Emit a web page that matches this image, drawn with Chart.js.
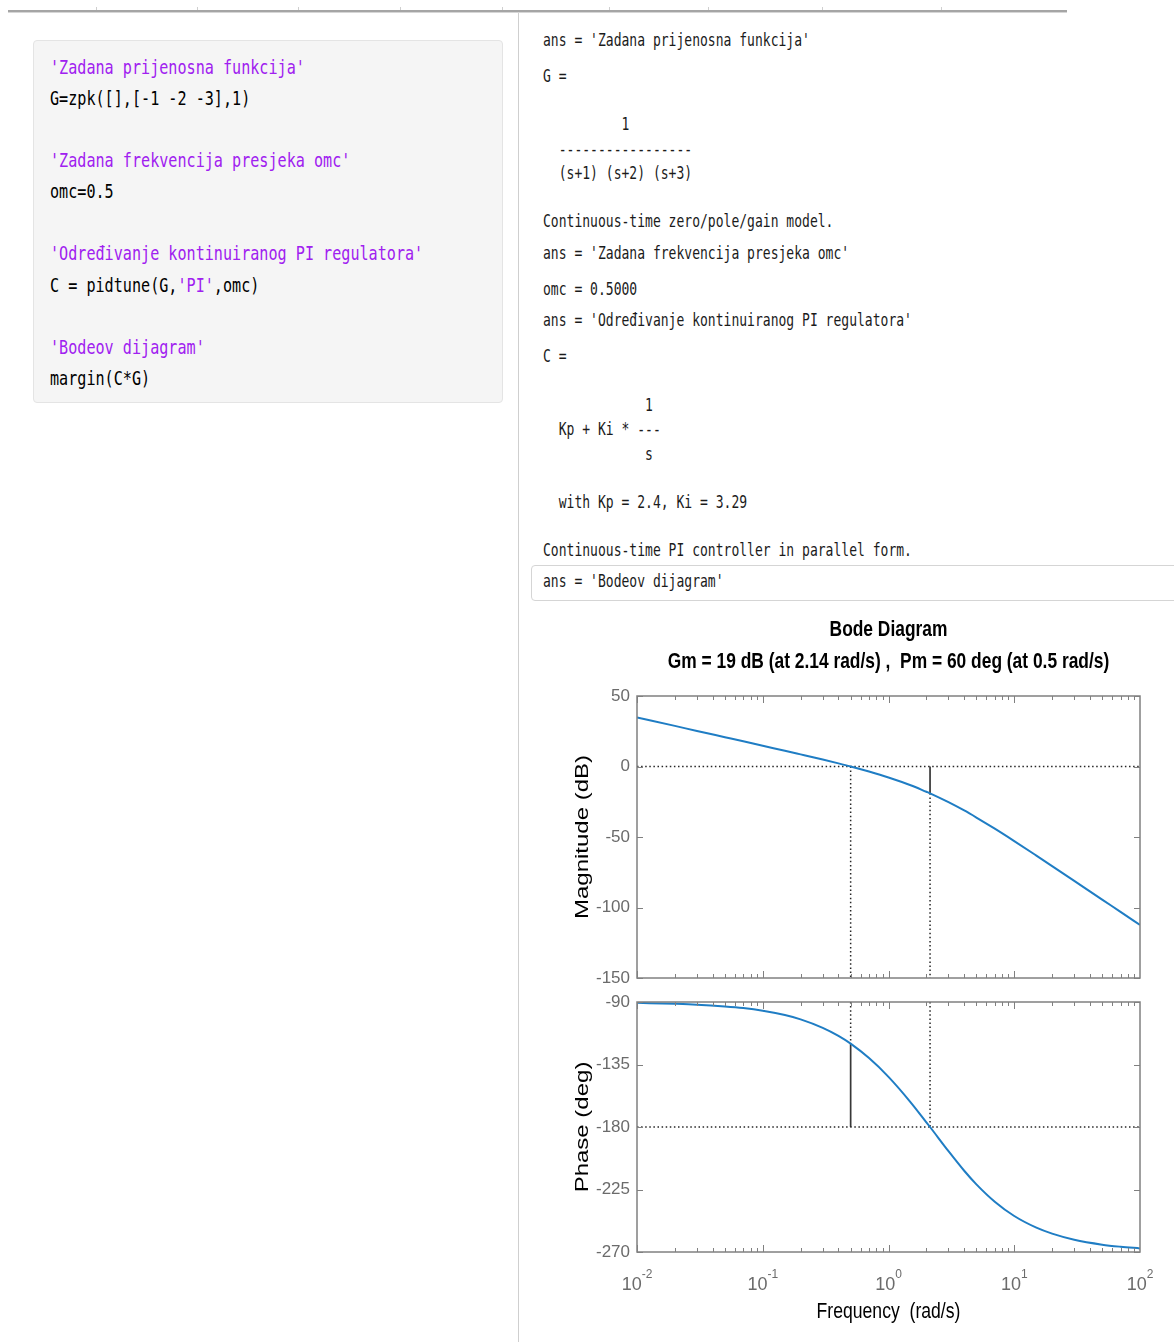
<!DOCTYPE html>
<html lang="hr">
<head>
<meta charset="utf-8">
<title>Bodeov dijagram</title>
<script src="https://cdn.jsdelivr.net/npm/chart.js@4.4.1/dist/chart.umd.min.js"></script>
<style>
  html, body { margin: 0; padding: 0; background: #fff; }
  #page { position: relative; width: 1174px; height: 1342px; overflow: hidden; background: #fff; }
  .toolbar { position: absolute; left: 8px; top: 10px; width: 1059px; height: 2px; background: #a5a5a5; border-bottom: 1px solid #d6d6d6; }
  .toolbar span { position: absolute; top: -3px; width: 1px; height: 3px; background: #cfcfcf; }
  .divider { position: absolute; left: 518px; top: 13px; width: 1px; height: 1329px; background: #cfcfcf; }
  .code-box { position: absolute; left: 33px; top: 40px; width: 468px; height: 361px; background: #f5f5f5; border: 1px solid #e4e4e4; border-radius: 4px; }
  .mono { position: absolute; white-space: pre; font-family: "DejaVu Sans Mono", "Liberation Mono", monospace; transform-origin: 0 50%; }
  .code { left: 50px; font-size: 20px; line-height: 24px; transform: scaleX(0.756); color: #000; }
  .out { left: 543px; font-size: 17px; line-height: 20px; transform: scaleX(0.767); color: #1b1b1b; }
  .str { color: #a020f0; }
  .ans-box { position: absolute; left: 531px; top: 565px; width: 660px; height: 34px; border: 1px solid #d5d5d5; border-radius: 4px; }
  canvas { position: absolute; }
  #magChart { left: 540px; top: 600px; }
  #phaseChart { left: 540px; top: 980px; }
</style>
</head>
<body>
<div id="page">
  <div class="toolbar">
    <span style="left:88px"></span><span style="left:189px"></span><span style="left:290px"></span>
    <span style="left:392px"></span><span style="left:494px"></span><span style="left:601px"></span>
    <span style="left:700px"></span><span style="left:814px"></span><span style="left:933px"></span>
  </div>
  <div class="divider"></div>

  <div class="code-box"></div>
  <div class="mono code str" style="top:55px">'Zadana prijenosna funkcija'</div>
  <div class="mono code" style="top:86px">G=zpk([],[-1 -2 -3],1)</div>
  <div class="mono code str" style="top:148px">'Zadana frekvencija presjeka omc'</div>
  <div class="mono code" style="top:179px">omc=0.5</div>
  <div class="mono code str" style="top:241px">'Određivanje kontinuiranog PI regulatora'</div>
  <div class="mono code" style="top:273px">C = pidtune(G,<span class="str">'PI'</span>,omc)</div>
  <div class="mono code str" style="top:335px">'Bodeov dijagram'</div>
  <div class="mono code" style="top:366px">margin(C*G)</div>

  <div class="mono out" style="top:30px">ans = 'Zadana prijenosna funkcija'</div>
  <div class="mono out" style="top:66px">G =</div>
  <div class="mono out" style="top:114px">          1</div>
  <div class="mono out" style="top:139px">  -----------------</div>
  <div class="mono out" style="top:163px">  (s+1) (s+2) (s+3)</div>
  <div class="mono out" style="top:211px">Continuous-time zero/pole/gain model.</div>
  <div class="mono out" style="top:243px">ans = 'Zadana frekvencija presjeka omc'</div>
  <div class="mono out" style="top:279px">omc = 0.5000</div>
  <div class="mono out" style="top:310px">ans = 'Određivanje kontinuiranog PI regulatora'</div>
  <div class="mono out" style="top:346px">C =</div>
  <div class="mono out" style="top:395px">             1</div>
  <div class="mono out" style="top:419px">  Kp + Ki * ---</div>
  <div class="mono out" style="top:444px">             s</div>
  <div class="mono out" style="top:492px">  with Kp = 2.4, Ki = 3.29</div>
  <div class="mono out" style="top:540px">Continuous-time PI controller in parallel form.</div>
  <div class="ans-box"></div>
  <div class="mono out" style="top:571px">ans = 'Bodeov dijagram'</div>

  <canvas id="magChart" width="634" height="396"></canvas>
  <canvas id="phaseChart" width="634" height="362"></canvas>
</div>

<script>
// open-loop C*G, frequency in rad/s
const freq = [0.01, 0.02, 0.03, 0.05, 0.07, 0.1, 0.15, 0.2, 0.3, 0.4, 0.5, 0.7, 1, 1.5, 2, 2.14,
              3, 4, 5, 7, 10, 15, 20, 30, 50, 70, 100];
const magDb = [34.8, 28.8, 25.2, 20.8, 17.9, 14.7, 11.2, 8.6, 4.9, 2.2, 0.0, -3.6, -7.8, -13.3, -17.9, -19.0,
               -25.3, -31.2, -36.2, -44.1, -52.9, -63.2, -70.6, -81.1, -94.4, -103.1, -112.4];
const phaseDeg = [-90.6, -91.3, -91.9, -93.2, -94.4, -96.3, -99.4, -102.5, -108.6, -114.4, -120.0, -130.4, -143.9, -162.2, -176.6, -180.0,
                  -197.4, -211.5, -221.3, -233.8, -244.1, -252.5, -256.8, -261.2, -264.7, -266.2, -267.4];

const freqDecades = [0.01, 0.1, 1, 10, 100];
const magTicks = [-150, -100, -50, 0, 50];
const phaseTicks = [-270, -225, -180, -135, -90];

// stability margins
const gmDb = 19, gmFreq = 2.14;
const pmDeg = 60, pmFreq = 0.5;

const FONT = '"Liberation Sans", Arial, Helvetica, sans-serif';
const AXIS_GREY = '#808080';
const LABEL_GREY = '#6b6b6b';
const CURVE_BLUE = '#1f7dc4';
const DOTS = '#262626';

// MATLAB figures use a narrow Helvetica; squeeze the text horizontally
function narrowText(ctx, text, x, y, sx, vertical) {
  ctx.save();
  ctx.translate(x, y);
  ctx.scale(sx, 1);
  if (vertical) ctx.rotate(-Math.PI / 2);
  ctx.fillText(text, 0, 0);
  ctx.restore();
}

const bodeAxes = {
  id: 'bodeAxes',
  afterDatasetsDraw(chart, args, opts) {
    const { ctx, chartArea: a, scales: { x, y } } = chart;
    const cx = (a.left + a.right) / 2;
    ctx.save();

    // inward ticks: decades + minor ticks on top/bottom, y ticks on both sides
    ctx.strokeStyle = AXIS_GREY;
    ctx.lineWidth = 1;
    ctx.beginPath();
    freqDecades.slice(0, -1).forEach(d => {
      for (let k = 1; k < 10; k++) {
        const px = Math.round(x.getPixelForValue(d * k)) + 0.5;
        const len = k === 1 ? 7 : 4;
        ctx.moveTo(px, a.top); ctx.lineTo(px, a.top + len);
        ctx.moveTo(px, a.bottom); ctx.lineTo(px, a.bottom - len);
      }
    });
    y.ticks.forEach(t => {
      const py = Math.round(y.getPixelForValue(t.value)) + 0.5;
      ctx.moveTo(a.left, py); ctx.lineTo(a.left + 6, py);
      ctx.moveTo(a.right, py); ctx.lineTo(a.right - 6, py);
    });
    ctx.stroke();
    ctx.lineWidth = 1.5;
    ctx.strokeRect(a.left, a.top, a.right - a.left, a.bottom - a.top);

    ctx.fillStyle = '#000';
    ctx.textAlign = 'center';
    ctx.textBaseline = 'middle';

    if (opts.title) {
      ctx.font = 'bold 22px ' + FONT;
      opts.title.forEach((line, i) => narrowText(ctx, line, cx, a.top - 66 + i * 32, 0.79));
    }

    ctx.font = '24px ' + FONT;
    narrowText(ctx, opts.yTitle, a.left - 54, (a.top + a.bottom) / 2, 0.78, true);

    if (opts.xTitle) {
      // 10^n decade labels
      ctx.fillStyle = LABEL_GREY;
      ctx.textAlign = 'left';
      ctx.textBaseline = 'alphabetic';
      freqDecades.forEach(d => {
        const px = x.getPixelForValue(d);
        const exp = String(Math.round(Math.log10(d)));
        ctx.font = '18px ' + FONT;
        const wBase = ctx.measureText('10').width;
        ctx.font = '12px ' + FONT;
        const wExp = ctx.measureText(exp).width;
        const x0 = px - (wBase + wExp) / 2;
        ctx.font = '18px ' + FONT;
        ctx.fillText('10', x0, a.bottom + 38);
        ctx.font = '12px ' + FONT;
        ctx.fillText(exp, x0 + wBase, a.bottom + 26);
      });

      ctx.fillStyle = '#000';
      ctx.textAlign = 'center';
      ctx.textBaseline = 'middle';
      ctx.font = '22px ' + FONT;
      narrowText(ctx, opts.xTitle, cx, a.bottom + 60, 0.8);
    }
    ctx.restore();
  }
};

function curve(values) {
  return {
    data: freq.map((f, i) => ({ x: f, y: values[i] })),
    borderColor: CURVE_BLUE,
    borderWidth: 2,
    pointRadius: 0,
    cubicInterpolationMode: 'monotone'
  };
}

function segment(points, dotted) {
  return {
    data: points.map(([x, y]) => ({ x, y })),
    borderColor: dotted ? DOTS : '#383838',
    borderWidth: dotted ? 1.5 : 1.7,
    borderDash: dotted ? [1.5, 2.6] : [],
    pointRadius: 0
  };
}

function bodeChart(id, datasets, ticks, range, padding, axesOpts) {
  return new Chart(document.getElementById(id), {
    type: 'line',
    data: { datasets },
    options: {
      responsive: false,
      animation: false,
      devicePixelRatio: 1,
      layout: { padding },
      plugins: {
        legend: { display: false },
        tooltip: { enabled: false },
        bodeAxes: axesOpts
      },
      scales: {
        x: { type: 'logarithmic', min: freqDecades[0], max: freqDecades[freqDecades.length - 1], display: false },
        y: {
          min: range[0],
          max: range[1],
          grid: { display: false, drawTicks: false },
          border: { display: false },
          afterBuildTicks: s => { s.ticks = ticks.map(v => ({ value: v })); },
          afterFit: s => { s.width = 97; },
          ticks: { padding: 7, color: LABEL_GREY, font: { family: FONT, size: 17 } }
        }
      }
    },
    plugins: [bodeAxes]
  });
}

const lo = freqDecades[0], hi = freqDecades[freqDecades.length - 1];

bodeChart('magChart', [
  curve(magDb),
  segment([[lo, 0], [hi, 0]], true),
  segment([[pmFreq, 0], [pmFreq, magTicks[0]]], true),
  segment([[gmFreq, -gmDb], [gmFreq, magTicks[0]]], true),
  segment([[gmFreq, 0], [gmFreq, -gmDb]], false)
], magTicks, [-150, 50], { left: 0, right: 34, top: 96, bottom: 18 }, {
  title: ['Bode Diagram',
          `Gm = ${gmDb} dB (at ${gmFreq} rad/s) ,  Pm = ${pmDeg} deg (at ${pmFreq} rad/s)`],
  yTitle: 'Magnitude (dB)'
});

bodeChart('phaseChart', [
  curve(phaseDeg),
  segment([[lo, -180], [hi, -180]], true),
  segment([[pmFreq, -90], [pmFreq, -180 + pmDeg]], true),
  segment([[gmFreq, -90], [gmFreq, -180]], true),
  segment([[pmFreq, -180], [pmFreq, -180 + pmDeg]], false)
], phaseTicks, [-270, -90], { left: 0, right: 34, top: 22, bottom: 90 }, {
  yTitle: 'Phase (deg)',
  xTitle: 'Frequency  (rad/s)'
});
</script>
</body>
</html>
